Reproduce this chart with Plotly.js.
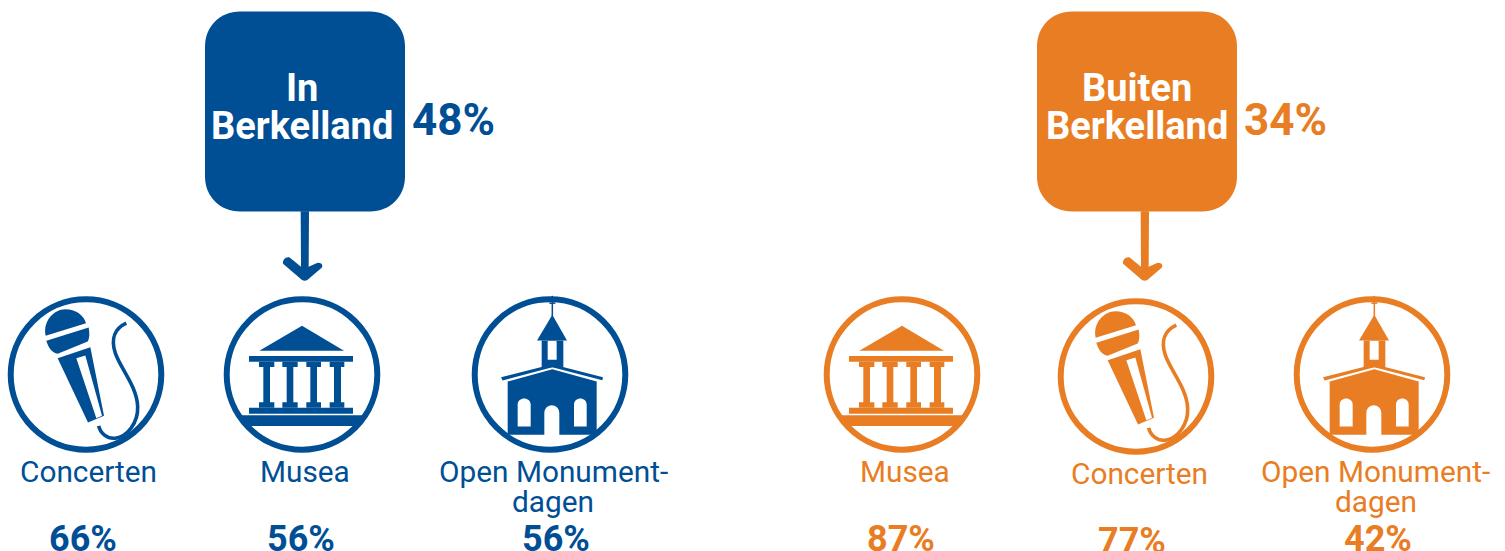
<!DOCTYPE html>
<html>
<head>
<meta charset="utf-8">
<script src="https://cdn.plot.ly/plotly-3.0.1.min.js"></script>
<style>html,body{margin:0;padding:0;background:#fff;overflow:hidden}#chart{width:1505px;height:551px}</style>
</head>
<body>
<div id="chart"></div>
<script>
// ---- data ----
var groupNames = [['In', 'Berkelland'], ['Buiten', 'Berkelland']];
var groupTotals = [48, 34];
var inCategories = [['Concerten'], ['Musea'], ['Open Monument-', 'dagen']];
var inValues = [66, 56, 56];
var outCategories = [['Musea'], ['Concerten'], ['Open Monument-', 'dagen']];
var outValues = [87, 77, 42];

// ---- styles and placement (pixel space of the axes) ----
var BLUE = '#004F95', ORANGE = '#E87D23';
var FONT = 'Roboto, sans-serif';
var placeGroups = [
  {color: BLUE, box: 205, arrow: 0, nameX: 302, totalX: 453.7},
  {color: ORANGE, box: 1037, arrow: 840, nameX: 1137, totalX: 1285.5}
];
var placeIn = [
  {icon: 'mic', cx: 86, cy: 374.5, labelX: 88.7, base: 481.7, valueX: 83},
  {icon: 'museum', cx: 302, cy: 374.5, labelX: 305, base: 481.7, valueX: 301},
  {icon: 'church', cx: 550, cy: 374.5, labelX: 553, base: 481.7, valueX: 555.8}
];
var placeOut = [
  {icon: 'museum', cx: 902, cy: 374.5, labelX: 905.3, base: 481.7, valueX: 900.8},
  {icon: 'mic', cx: 1136, cy: 376.5, labelX: 1139, base: 484, valueX: 1132.3},
  {icon: 'church', cx: 1372, cy: 374.5, labelX: 1375.5, base: 481.7, valueX: 1377.8}
];

// glyph outlines, written in a 3x grid with their own origin
var GLYPHS = {
  mic: {o: [257, 254], fill: [
    'M136,138 C126,95 160,58 195,58 C225,58 250,75 257,100 Z',
    'M138,153 L265,113 C268,130 268,145 262,155 L172,192 C155,190 143,172 138,153 Z',
    'M172,205 L270,172 L311,378 L263,398 Z M228,205 L288,385 L305,378 L255,197 Z'
  ], line: ['M378,100 C345,115 330,145 345,190 C360,235 410,290 412,350 C414,400 380,440 345,445 C320,448 300,430 295,408']},
  museum: {o: [186, 163.5], fill: [
    'M58,92 L186,17 L312,92 Z',
    'M27,108 L339,108 L339,125 L27,125 Z',
    'M57,125 L103,125 L103,141 L90,141 L90,247 L103,247 L103,263 L57,263 L57,247 L70,247 L70,141 L57,141 Z',
    'M127,125 L173,125 L173,141 L160,141 L160,247 L173,247 L173,263 L127,263 L127,247 L140,247 L140,141 L127,141 Z',
    'M199,125 L243,125 L243,141 L231,141 L231,247 L243,247 L243,263 L199,263 L199,247 L211,247 L211,141 L199,141 Z',
    'M269,125 L313,125 L313,141 L303,141 L303,247 L313,247 L313,263 L269,263 L269,247 L282,247 L282,141 L269,141 Z',
    'M27,263 L339,263 L339,281 L27,281 Z',
    'M4,286 L368,286 L352,318 L20,318 Z'
  ], line: []},
  church: {o: [360, 254], fill: [
    'M321,152 L367,75 L411,152 Z',
    'M335,152 L400,152 L400,232 L335,232 Z M353,210 L380,210 L380,160 C380,135 353,135 353,160 Z',
    'M213,262 L367,223 L519,262 L517,271 L367,232 L218,272 Z',
    'M233,275 L367,238 L500,275 L500,435 L388,435 L388,370 C388,338 343,338 343,370 L343,435 L233,435 Z ' +
    'M263,410 L302,410 L302,345 C302,320 263,320 263,345 Z M432,410 L470,410 L470,345 C470,320 432,320 432,345 Z'
  ], line: ['M367,18 L367,80', 'M358,40 L376,40']}
};
var LINE_WIDTH = {mic: 3.6, church: 1.5};

function mapPath(d, fx, fy) {
  return d.replace(/(-?[\d.]+),(-?[\d.]+)/g, function (m, a, b) {
    return fx(+a).toFixed(2) + ',' + fy(+b).toFixed(2);
  });
}
var BOX = 'M35,0 L165,0 C185,0 200,15 200,35 L200,165 C200,185 185,200 165,200 L35,200 C15,200 0,185 0,165 L0,35 C0,15 15,0 35,0 Z';
var ARROW = 'M332,634 L357,634 L356,800 L383,788 C395,788 400,795 395,803 L352,840 C347,843 341,843 336,840 L280,792 C275,785 285,768 298,772 L333,800 Z';

var shapes = [], annotations = [];
function text(t, x, base, size, color, bold) {
  annotations.push({
    text: bold ? '<b>' + t + '</b>' : t, x: x, y: base - size * (bold ? 0.31 : 0.355), xref: 'x', yref: 'y',
    xanchor: 'center', yanchor: 'middle', showarrow: false,
    font: {family: FONT, size: size, color: color}
  });
}
function addPath(d, color, width) {
  shapes.push({
    type: 'path', path: d, xref: 'x', yref: 'y',
    fillcolor: width ? 'rgba(0,0,0,0)' : color,
    line: width ? {color: color, width: width} : {width: 0}
  });
}
function addItem(place, labelLines, value, color) {
  var g = GLYPHS[place.icon];
  var fx = function (v) { return place.cx + (v - g.o[0]) / 3; };
  var fy = function (v) { return place.cy + (v - g.o[1]) / 3; };
  var r = 75.3;
  shapes.push({type: 'circle', xref: 'x', yref: 'y',
    x0: place.cx - r, x1: place.cx + r, y0: place.cy - r, y1: place.cy + r,
    fillcolor: 'rgba(0,0,0,0)', line: {color: color, width: 6}});
  g.fill.forEach(function (d) { addPath(mapPath(d, fx, fy), color, 0); });
  g.line.forEach(function (d) { addPath(mapPath(d, fx, fy), color, LINE_WIDTH[place.icon]); });
  labelLines.forEach(function (t, i) { text(t, place.labelX, place.base + i * 30, 29.8, color, false); });
  text(value + '%', place.valueX, place.base + 68.5, 36, color, true);
}

placeGroups.forEach(function (p, i) {
  addPath(mapPath(BOX, function (v) { return p.box + v; }, function (v) { return 11.5 + v; }), p.color, 0);
  addPath(mapPath(ARROW, function (v) { return 190 + p.arrow + v / 3; }, function (v) { return v / 3; }), p.color, 0);
  groupNames[i].forEach(function (t, j) { text(t, p.nameX, 100 + j * 37.3, 38, '#FFFFFF', true); });
  text(groupTotals[i] + '%', p.totalX, 134, 44, p.color, true);
});
inCategories.forEach(function (c, i) { addItem(placeIn[i], c, inValues[i], BLUE); });
outCategories.forEach(function (c, i) { addItem(placeOut[i], c, outValues[i], ORANGE); });

var layout = {
  width: 1505, height: 551,
  margin: {l: 0, r: 0, t: 0, b: 0},
  paper_bgcolor: '#FFFFFF', plot_bgcolor: '#FFFFFF',
  showlegend: false,
  xaxis: {range: [0, 1505], visible: false, fixedrange: true},
  yaxis: {range: [551, 0], visible: false, fixedrange: true},
  shapes: shapes, annotations: annotations
};
Plotly.newPlot('chart', [], layout, {displayModeBar: false, staticPlot: true});
</script>
</body>
</html>
